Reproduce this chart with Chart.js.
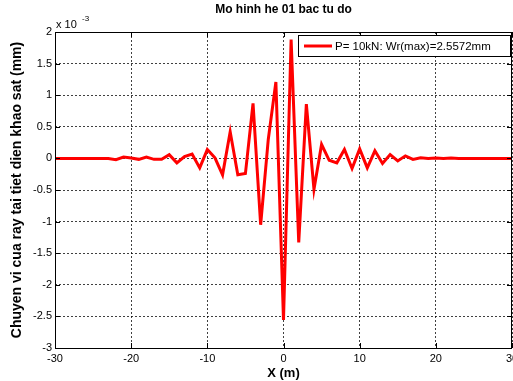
<!DOCTYPE html>
<html>
<head>
<meta charset="utf-8">
<title>Mo hinh he 01 bac tu do</title>
<script src="https://cdn.jsdelivr.net/npm/chart.js@4.4.0/dist/chart.umd.min.js"></script>
<style>
  html, body { margin: 0; padding: 0; background: #fff; }
  #wrap { width: 513px; height: 381px; }
</style>
</head>
<body>
<div id="wrap"><canvas id="dispChart" width="513" height="381"></canvas></div>
<script>
// positions along the rail (m)
const xPos = [-30, -29, -28, -27, -26, -25, -24, -23, -22, -21, -20, -19, -18, -17, -16, -15,
  -14, -13, -12, -11, -10, -9, -8, -7, -6, -5, -4, -3, -2, -1, 0, 1, 2, 3, 4, 5, 6, 7, 8,
  9, 10, 11, 12, 13, 14, 15, 16, 17, 18, 19, 20, 21, 22, 23, 24, 25, 26, 27, 28, 29, 30];
// rail displacement at the section, in units of 1e-3 mm
const disp = [0, 0, 0, 0, 0, 0, 0, 0, -0.02, 0.02, 0.005, -0.015, 0.02, -0.015, -0.015, 0.06,
  -0.07, 0.03, 0.07, -0.15, 0.14, 0.01, -0.26, 0.42, -0.26, -0.24, 0.87, -1.05, 0.3, 1.21,
  -2.5572, 1.88, -1.33, 0.86, -0.49, 0.22, -0.03, -0.07, 0.14, -0.16, 0.15, -0.15, 0.12,
  -0.08, 0.06, -0.04, 0.04, -0.015, 0.01, 0, 0.005, 0, 0.005, 0, 0, 0, 0, 0, 0, 0, 0];
const xTicks = [-30, -20, -10, 0, 10, 20, 30];
const yTicks = [-3, -2.5, -2, -1.5, -1, -0.5, 0, 0.5, 1, 1.5, 2];

const seriesLabel = "P= 10kN: Wr(max)=2.5572mm";
const titleText = "Mo hinh he 01 bac tu do";
const FONT = "Liberation Sans, Arial, sans-serif";

const points = xPos.map((x, i) => ({ x: x, y: disp[i] }));

// frame, inward ticks, title, exponent and legend (matlab look)
const matlabAxes = {
  id: "matlabAxes",
  afterDatasetsDraw(chart) {
    const ctx = chart.ctx;
    const a = chart.chartArea;
    const sx = chart.scales.x, sy = chart.scales.y;
    ctx.save();
    ctx.strokeStyle = "#000";
    ctx.lineWidth = 1;
    ctx.beginPath();
    ctx.rect(Math.round(a.left) + 0.5, Math.round(a.top) + 0.5,
      Math.round(a.right - a.left) - 1, Math.round(a.bottom - a.top));
    ctx.stroke();
    const tl = 5;
    ctx.beginPath();
    xTicks.forEach(v => {
      const px = Math.round(sx.getPixelForValue(v)) + 0.5;
      ctx.moveTo(px, a.bottom); ctx.lineTo(px, a.bottom - tl);
      ctx.moveTo(px, a.top); ctx.lineTo(px, a.top + tl);
    });
    yTicks.forEach(v => {
      const py = Math.round(sy.getPixelForValue(v)) + 0.5;
      ctx.moveTo(a.left, py); ctx.lineTo(a.left + tl, py);
      ctx.moveTo(a.right, py); ctx.lineTo(a.right - tl, py);
    });
    ctx.stroke();

    // title
    ctx.fillStyle = "#000";
    ctx.font = "bold 12px " + FONT;
    ctx.textAlign = "center";
    ctx.textBaseline = "middle";
    ctx.fillText(titleText, (a.left + a.right) / 2, 10);

    // exponent
    ctx.textAlign = "left";
    ctx.textBaseline = "alphabetic";
    ctx.font = "11px " + FONT;
    ctx.fillText("x 10", a.left + 1, 28);
    ctx.font = "8px " + FONT;
    ctx.fillText("-3", a.left + 27, 21);

    // legend
    const lx = 298.5, ly = 35.5, lw = 212, lh = 21;
    ctx.fillStyle = "#fff";
    ctx.fillRect(lx, ly, lw, lh);
    ctx.strokeStyle = "#000";
    ctx.lineWidth = 1;
    ctx.strokeRect(lx, ly, lw, lh);
    ctx.strokeStyle = "#ff0000";
    ctx.lineWidth = 3;
    ctx.beginPath();
    ctx.moveTo(304, ly + lh / 2);
    ctx.lineTo(332, ly + lh / 2);
    ctx.stroke();
    ctx.fillStyle = "#000";
    ctx.font = "11.5px " + FONT;
    ctx.textBaseline = "middle";
    ctx.fillText(seriesLabel, 335, ly + lh / 2 + 1);
    ctx.restore();
  }
};

new Chart(document.getElementById("dispChart").getContext("2d"), {
  type: "line",
  data: {
    datasets: [{
      label: seriesLabel,
      data: points,
      borderColor: "#ff0000",
      borderWidth: 3,
      pointRadius: 0,
      tension: 0,
      fill: false
    }]
  },
  options: {
    responsive: false,
    animation: false,
    devicePixelRatio: 1,
    layout: { padding: { top: 32, right: 1, left: 0, bottom: 0 } },
    plugins: {
      legend: { display: false },
      title: { display: false },
      tooltip: { enabled: false }
    },
    scales: {
      x: {
        type: "linear",
        min: -30,
        max: 30,
        afterFit: s => { s.height = 33; s.paddingLeft = 0; s.paddingRight = 0; },
        afterBuildTicks: s => { s.ticks = xTicks.map(v => ({ value: v })); },
        ticks: {
          color: "#000",
          font: { family: FONT, size: 11 },
          padding: 4,
          maxRotation: 0
        },
        grid: { color: "rgba(0,0,0,0.75)", lineWidth: 1, drawTicks: false },
        border: { display: false, dash: [2, 2] },
        title: {
          display: true,
          text: "X (m)",
          color: "#000",
          font: { family: FONT, size: 13, weight: "bold" },
          padding: { top: 0, bottom: 0 }
        }
      },
      y: {
        type: "linear",
        min: -3,
        max: 2,
        afterFit: s => { s.width = 55; s.paddingTop = 0; s.paddingBottom = 0; },
        afterBuildTicks: s => { s.ticks = yTicks.map(v => ({ value: v })); },
        ticks: {
          color: "#000",
          font: { family: FONT, size: 11 },
          padding: 3,
          callback: v => String(v)
        },
        grid: { color: "rgba(0,0,0,0.75)", lineWidth: 1, drawTicks: false },
        border: { display: false, dash: [2, 2] },
        title: {
          display: true,
          text: "Chuyen vi cua ray tai tiet dien khao sat (mm)",
          color: "#000",
          font: { family: FONT, size: 14, weight: "bold" },
          padding: { top: 9, bottom: 0 }
        }
      }
    }
  },
  plugins: [matlabAxes]
});
</script>
</body>
</html>
